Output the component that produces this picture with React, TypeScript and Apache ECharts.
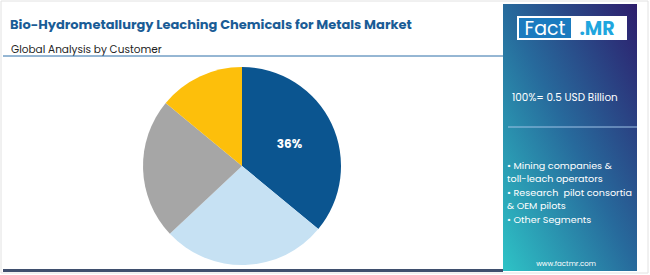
import React, { useEffect, useRef } from "react";
import * as echarts from "echarts";

const categories = [
  "Mining companies & toll-leach operators",
  "Research  pilot consortia & OEM pilots",
  "Other Segments",
  "Remaining",
];
const shares = [36, 27, 23, 14];
const sliceColors = ["#0b5590", "#c6e1f3", "#a6a6a6", "#fdbf0b"];
const legendLines = [
  "• Mining companies &",
  "toll-leach operators",
  "• Research  pilot consortia",
  "& OEM pilots",
  "• Other Segments",
];
const titleText = "Bio-Hydrometallurgy Leaching Chemicals for Metals Market";
const subtitleText = "Global Analysis by Customer";
const totalText = "100%= 0.5 USD Billion";
const siteText = "www.factmr.com";

export default function App() {
  const ref = useRef<HTMLDivElement>(null);
  useEffect(() => {
    if (!ref.current) return;
    const chart = echarts.init(ref.current, undefined, { renderer: "svg" });
    const font = "Poppins, 'Open Sans', Inter, sans-serif";
    chart.setOption({
      animation: false,
      backgroundColor: "#ffffff",
      series: [
        {
          type: "pie",
          center: [242, 166],
          radius: [0, 99],
          startAngle: 90,
          clockwise: true,
          silent: true,
          label: { show: false },
          labelLine: { show: false },
          data: categories.map((name, i) => ({
            name,
            value: shares[i],
            itemStyle: { color: sliceColors[i] },
            label:
              i === 0
                ? {
                    show: true,
                    position: "inside",
                    formatter: "{c}%",
                    color: "#ffffff",
                    fontSize: 12,
                    fontWeight: "bold",
                    fontFamily: font,
                  }
                : { show: false },
          })),
        },
      ],
      graphic: [
        { type: "rect", shape: { x: 1, y: 1, width: 647, height: 272 }, style: { fill: "none", stroke: "#e2e2e2", lineWidth: 1 } },
        { type: "text", x: 10, y: 24, style: { text: titleText, font: `bold 13px ${font}`, fill: "#1a5c96", textVerticalAlign: "middle" } },
        { type: "text", x: 11, y: 49, style: { text: subtitleText, font: `10.5px ${font}`, fill: "#222222", textVerticalAlign: "middle" } },
        { type: "line", shape: { x1: 3, y1: 56, x2: 503, y2: 56 }, style: { stroke: "#2d6fa8", lineWidth: 1 } },
        { type: "rect", shape: { x: 3, y: 269, width: 500, height: 3 }, style: { fill: "#3f4f6e" } },
        {
          type: "rect",
          shape: { x: 503, y: 4, width: 134, height: 267 },
          style: {
            fill: new echarts.graphic.LinearGradient(1, 0, 0, 1, [
              { offset: 0, color: "#2d1d6c" },
              { offset: 0.5, color: "#276a9c" },
              { offset: 1, color: "#2ec3c6" },
            ]),
          },
        },
        { type: "rect", shape: { x: 517, y: 16, width: 110, height: 24 }, style: { fill: "#ffffff" } },
        { type: "rect", shape: { x: 519, y: 18, width: 52, height: 20 }, style: { fill: "#1b7bbf" } },
        { type: "text", x: 545, y: 28.5, style: { text: "Fact", font: `19px ${font}`, fill: "#ffffff", textAlign: "center", textVerticalAlign: "middle" } },
        { type: "text", x: 597, y: 28.5, style: { text: ".MR", font: `bold 19px ${font}`, fill: "#1fa6de", textAlign: "center", textVerticalAlign: "middle" } },
        { type: "text", x: 512, y: 97, style: { text: totalText, font: `10.4px ${font}`, fill: "#ffffff", textVerticalAlign: "middle" } },
        { type: "line", shape: { x1: 508, y1: 127, x2: 637, y2: 127 }, style: { stroke: "#9fc3e6", lineWidth: 1 } },
        ...legendLines.map((t, i) => ({
          type: "text",
          x: 507,
          y: 165 + i * 13.6,
          style: { text: t, font: `9.6px ${font}`, fill: "#ffffff", textVerticalAlign: "middle" },
        })),
        { type: "text", x: 566, y: 263, style: { text: siteText, font: `7px ${font}`, fill: "#ffffff", textAlign: "center", textVerticalAlign: "middle" } },
      ],
    });
    return () => chart.dispose();
  }, []);
  return <div ref={ref} style={{ position: "fixed", left: 0, top: 0, width: 650, height: 275 }} />;
}
